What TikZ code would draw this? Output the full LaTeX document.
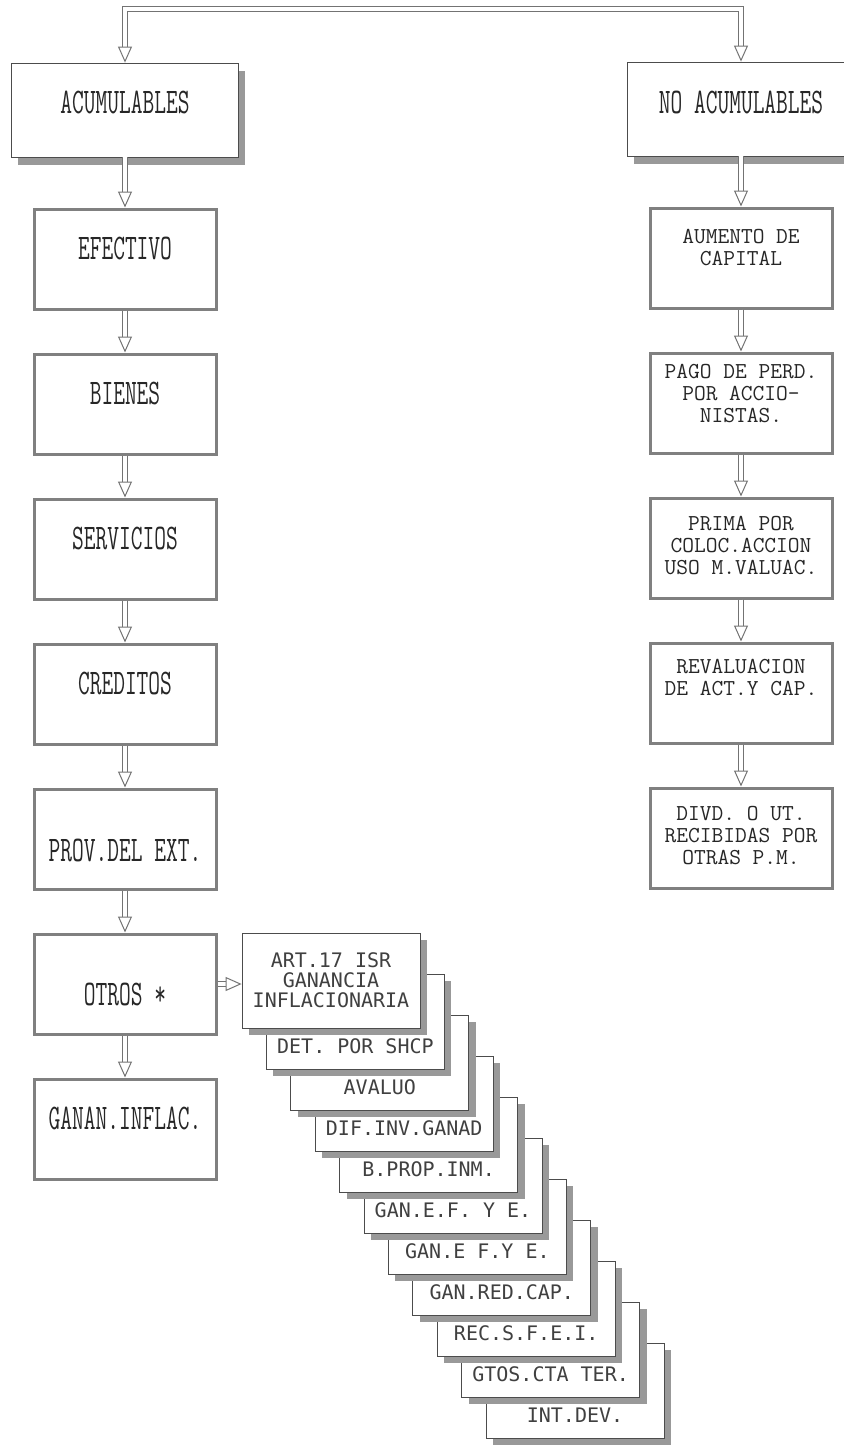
\documentclass[tikz,border=0pt]{standalone}
\usepackage{fontspec}
\usepackage{graphicx}
\usetikzlibrary{positioning,arrows.meta,shadows}
\newfontfamily\cardfont{DejaVu Sans Mono}
\newcommand{\tall}[2][0pt]{\raisebox{#1}[\height][\depth]{\scalebox{1}[1.58]{#2}}}
\newcommand{\stk}[2][0pt]{\raisebox{#1}[\height][\depth]{\fontsize{11.4}{11}\selectfont\begin{tabular}{@{}c@{}}#2\end{tabular}}}
\tikzstyle{headbox} = [rectangle, minimum width=113.5pt, minimum height=47pt, inner sep=0pt, draw=black!70, fill=white, drop shadow={shadow xshift=3pt, shadow yshift=-4pt, fill=black!40, opacity=1}, font=\ttfamily\fontsize{11.4}{13}\selectfont, text=black!85]
\tikzstyle{itembox} = [rectangle, minimum width=91pt, minimum height=50pt, inner sep=0pt, draw=black!50, line width=1.5pt, font=\ttfamily\fontsize{11.4}{13}\selectfont, text=black!85]
\tikzstyle{cardbox} = [rectangle, minimum width=89pt, minimum height=47.5pt, inner sep=0pt, draw=black!70, fill=white, drop shadow={shadow xshift=3.5pt, shadow yshift=-3.5pt, fill=black!40, opacity=1}, font=\cardfont\fontsize{10}{10}\selectfont, text=black!75]
\tikzstyle{cardlow} = [cardbox, text height=39.65pt, text depth=7.85pt]
\tikzstyle{dblarrow} = [draw=black!55, line width=0.5pt, double=white, double distance=2pt, ->, >={Triangle[open, length=8pt, width=7pt]}]
\begin{document}
\begin{tikzpicture}[x=0.5pt, y=-0.5pt, node distance=72.5pt]
  \useasboundingbox (0,0) rectangle (844,1445);
  \clip (0,0) rectangle (844,1445);
  \coordinate (top) at (433,9);
  % acumulables
  \node (acum)[headbox] at (125,110) {\tall[4pt]{ACUMULABLES}};
  \node (efec)[itembox, node distance=74.5pt, below of=acum] {\tall[5.5pt]{EFECTIVO}};
  \node (bien)[itembox, below of=efec] {\tall[5.5pt]{BIENES}};
  \node (serv)[itembox, below of=bien] {\tall[5.5pt]{SERVICIOS}};
  \node (cred)[itembox, below of=serv] {\tall[5.5pt]{CREDITOS}};
  \node (prov)[itembox, below of=cred] {\tall[-5.5pt]{PROV.DEL EXT.}};
  \node (otros)[itembox, below of=prov] {\tall[-5pt]{OTROS *}};
  \node (ganan)[itembox, below of=otros] {\tall[5.5pt]{GANAN.INFLAC.}};
  % no acumulables
  \node (noacum)[headbox] at (741,109) {\tall[3.5pt]{NO ACUMULABLES}};
  \node (aum)[itembox, node distance=74.5pt, below of=noacum] {\stk[4pt]{AUMENTO DE\\CAPITAL}};
  \node (pago)[itembox, below of=aum] {\stk[3.5pt]{PAGO DE PERD.\\POR ACCIO-\\NISTAS.}};
  \node (prima)[itembox, below of=pago] {\stk{PRIMA POR\\COLOC.ACCION\\USO M.VALUAC.}};
  \node (reval)[itembox, below of=prima] {\stk[6.5pt]{REVALUACION\\DE ACT.Y CAP.}};
  \node (divd)[itembox, below of=reval] {\stk{DIVD. O UT.\\RECIBIDAS POR\\OTRAS P.M.}};
  % otros (de atras hacia adelante)
  \node (c10)[cardlow] at (575,1390.5) {INT.DEV.};
  \node (c9)[cardlow] at (550.6,1349.5) {GTOS.CTA TER.};
  \node (c8)[cardlow] at (526.2,1308.5) {REC.S.F.E.I.};
  \node (c7)[cardlow] at (501.8,1267.5) {GAN.RED.CAP.};
  \node (c6)[cardlow] at (477.4,1226.5) {GAN.E F.Y E.};
  \node (c5)[cardlow] at (453,1185.5) {GAN.E.F. Y E.};
  \node (c4)[cardlow] at (428.6,1144.5) {B.PROP.INM.};
  \node (c3)[cardlow] at (404.2,1103.5) {DIF.INV.GANAD};
  \node (c2)[cardlow] at (379.8,1062.5) {AVALUO};
  \node (c1)[cardlow] at (355.4,1021.5) {DET. POR SHCP};
  \node (c0)[cardbox, align=center] at (331,980.5) {ART.17 ISR\\GANANCIA\\INFLACIONARIA};
  % flechas
  \draw [dblarrow, <->] (acum.north) |- (top) -| (noacum.north);
  \draw [dblarrow] (acum)--(efec);
  \draw [dblarrow] (efec)--(bien);
  \draw [dblarrow] (bien)--(serv);
  \draw [dblarrow] (serv)--(cred);
  \draw [dblarrow] (cred)--(prov);
  \draw [dblarrow] (prov)--(otros);
  \draw [dblarrow] (otros)--(ganan);
  \draw [dblarrow] (noacum)--(aum);
  \draw [dblarrow] (aum)--(pago);
  \draw [dblarrow] (pago)--(prima);
  \draw [dblarrow] (prima)--(reval);
  \draw [dblarrow] (reval)--(divd);
  \draw [dblarrow] (otros.east)--(otros.east -| c0.west);
\end{tikzpicture}
\end{document}
